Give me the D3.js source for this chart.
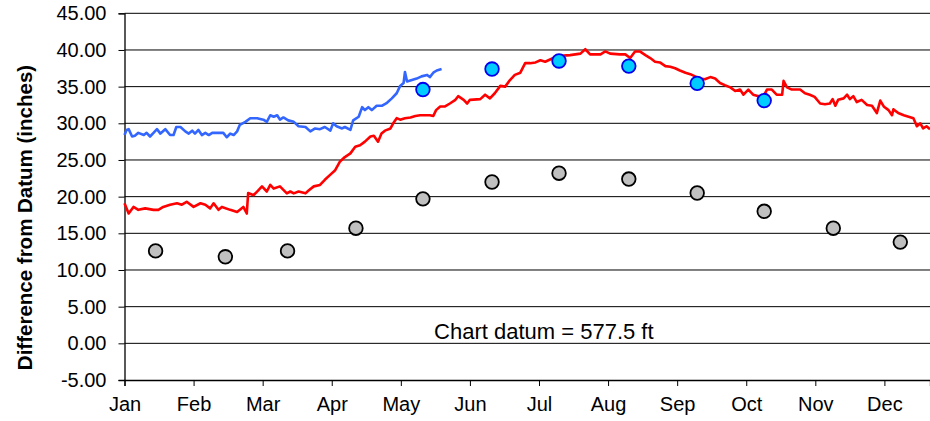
<!DOCTYPE html>
<html>
<head>
<meta charset="utf-8">
<script src="https://cdn.jsdelivr.net/npm/d3@7"></script>
<style>
  body { margin: 0; background: #fff; }
  svg text { font-family: "Liberation Sans", Arial, sans-serif; fill: #000; }
</style>
</head>
<body>
<svg width="930" height="421"></svg>
<script>
// month labels, positions on the x axis are month offsets (0 = start of Jan)
var months = ["Jan", "Feb", "Mar", "Apr", "May", "Jun", "Jul", "Aug", "Sep", "Oct", "Nov", "Dec"];
var yTicks = [-5, 0, 5, 10, 15, 20, 25, 30, 35, 40, 45];

// daily level, current year (red)
var levelRed = [
  [0.00,19.1],[0.06,17.7],[0.13,18.6],[0.20,18.2],[0.30,18.4],[0.42,18.2],[0.49,18.2],[0.56,18.6],
  [0.66,18.9],[0.76,19.1],[0.83,18.9],[0.90,19.3],[1.00,18.6],[1.10,19.1],[1.17,18.9],[1.24,18.4],
  [1.29,19.1],[1.36,18.2],[1.41,18.6],[1.53,18.2],[1.63,17.9],[1.72,18.6],[1.77,17.7],[1.79,20.5],
  [1.87,20.2],[1.94,20.9],[1.99,21.4],[2.06,20.7],[2.11,21.6],[2.16,21.1],[2.25,21.4],[2.35,20.45],
  [2.40,20.7],[2.45,20.45],[2.52,20.7],[2.62,20.45],[2.66,20.8],[2.74,21.4],[2.83,21.6],[2.90,22.3],
  [2.98,23.0],[3.05,23.6],[3.12,24.8],[3.19,25.4],[3.27,25.9],[3.34,26.8],[3.41,27.0],[3.48,27.5],
  [3.56,28.2],[3.61,28.3],[3.67,27.5],[3.72,28.6],[3.77,29.0],[3.85,29.3],[3.89,30.0],[3.94,30.7],
  [3.99,30.5],[4.06,30.7],[4.14,30.8],[4.21,31.0],[4.28,31.1],[4.42,31.1],[4.47,31.0],[4.51,31.8],
  [4.57,32.3],[4.64,32.3],[4.71,32.7],[4.79,33.2],[4.83,33.7],[4.91,33.2],[4.96,32.7],[5.00,33.2],
  [5.15,33.3],[5.22,33.9],[5.29,33.4],[5.36,34.1],[5.44,35.1],[5.51,35.0],[5.58,35.9],[5.65,36.6],
  [5.73,36.9],[5.80,38.2],[5.87,38.2],[5.95,38.3],[6.02,38.6],[6.09,38.4],[6.16,38.7],[6.23,39.0],
  [6.31,39.2],[6.45,39.3],[6.60,39.5],[6.67,40.1],[6.74,39.4],[6.89,39.4],[6.96,39.8],[7.03,39.5],
  [7.17,39.4],[7.25,39.4],[7.32,38.9],[7.39,39.8],[7.46,39.8],[7.54,39.3],[7.61,38.9],[7.68,38.4],
  [7.75,38.3],[7.83,37.8],[7.90,37.7],[7.97,37.5],[8.04,37.2],[8.12,36.9],[8.19,36.7],[8.26,36.4],
  [8.33,36.1],[8.40,36.0],[8.48,36.3],[8.55,36.1],[8.62,35.5],[8.69,35.2],[8.77,34.9],[8.84,34.4],
  [8.91,34.6],[8.96,33.9],[9.03,34.6],[9.10,33.9],[9.18,33.7],[9.25,33.7],[9.30,34.6],[9.37,34.6],
  [9.44,33.9],[9.52,33.9],[9.54,35.8],[9.59,34.9],[9.66,34.6],[9.78,34.6],[9.85,34.1],[9.92,33.9],
  [9.99,33.6],[10.07,32.7],[10.14,32.6],[10.21,32.7],[10.25,33.3],[10.29,32.4],[10.33,33.2],[10.41,33.4],
  [10.46,33.9],[10.50,33.3],[10.55,33.7],[10.60,32.9],[10.67,33.2],[10.75,32.5],[10.82,32.4],[10.89,31.4],
  [10.94,33.1],[10.99,32.3],[11.06,31.8],[11.11,31.1],[11.13,31.9],[11.20,31.4],[11.28,31.1],[11.35,30.9],
  [11.42,30.7],[11.47,29.6],[11.52,30.0],[11.56,29.3],[11.61,29.6],[11.66,29.2]
];

// daily level, other year (blue), stops in late May
var levelBlue = [
  [0.00,28.4],[0.03,29.1],[0.06,29.2],[0.11,28.2],[0.15,28.3],[0.20,28.7],[0.28,28.4],[0.32,28.7],
  [0.37,28.2],[0.42,28.7],[0.47,29.2],[0.52,28.6],[0.59,29.2],[0.66,28.4],[0.71,28.4],[0.75,29.5],
  [0.81,29.5],[0.88,28.9],[0.93,28.6],[0.98,29.0],[1.02,28.6],[1.07,29.1],[1.12,28.4],[1.17,28.7],
  [1.22,28.4],[1.27,28.7],[1.34,28.7],[1.43,28.7],[1.48,28.1],[1.53,28.6],[1.58,28.4],[1.63,28.9],
  [1.67,29.8],[1.75,30.2],[1.82,30.7],[1.92,30.7],[2.01,30.5],[2.06,30.2],[2.11,31.1],[2.16,30.9],
  [2.21,31.1],[2.25,30.5],[2.30,30.8],[2.37,30.4],[2.45,30.2],[2.52,29.6],[2.62,29.5],[2.69,28.9],
  [2.76,29.3],[2.83,29.2],[2.90,29.5],[2.98,29.0],[3.02,30.0],[3.07,29.6],[3.15,29.3],[3.19,29.5],
  [3.27,29.1],[3.31,30.4],[3.39,30.9],[3.44,32.2],[3.48,31.8],[3.53,32.2],[3.58,31.8],[3.65,32.4],
  [3.73,32.4],[3.80,32.8],[3.87,33.4],[3.94,34.1],[3.99,35.1],[4.04,35.5],[4.06,37.0],[4.09,35.7],
  [4.16,35.9],[4.23,36.1],[4.30,36.4],[4.38,36.6],[4.42,36.3],[4.47,36.9],[4.52,37.2],[4.59,37.4]
];

// monthly points
var dotPos = [0.45, 1.46, 2.36, 3.35, 4.32, 5.32, 6.29, 7.30, 8.29, 9.26, 10.26, 11.23];
var grayVals = [12.6, 11.8, 12.6, 15.7, 19.7, 22.0, 23.2, 22.4, 20.5, 18.0, 15.7, 13.8];
var cyanPos = [4.32, 5.32, 6.29, 7.30, 8.29, 9.26];
var cyanVals = [34.6, 37.4, 38.5, 37.8, 35.45, 33.1];

var svg = d3.select("svg"),
    plotLeft = 124.5, plotRight = 930, plotTop = 13.3, plotBottom = 380;

var x = d3.scaleLinear().domain([0, 11.66]).range([plotLeft, plotRight]);
var y = d3.scaleLinear().domain([-5, 45]).range([plotBottom, plotTop]);

// gridlines
svg.append("g").selectAll("line")
    .data(yTicks.filter(function(d){ return d > -5; }))
    .enter().append("line")
    .attr("x1", plotLeft).attr("x2", plotRight)
    .attr("y1", function(d){ return y(d); })
    .attr("y2", function(d){ return y(d); })
    .attr("stroke", "#000")
    .attr("stroke-width", 1);

// y axis (plain hyphen for negatives, like the original)
var yAxis = d3.axisLeft(y).tickValues(yTicks).tickSize(6).tickPadding(12)
    .tickFormat(function(d){ return d.toFixed(2); });
var gy = svg.append("g").attr("transform", "translate(" + plotLeft + ",0)").call(yAxis);
gy.selectAll("text").style("font-size", "20px");

// x axis
var xAxis = d3.axisBottom(x).tickValues(d3.range(12)).tickSize(6).tickPadding(11)
    .tickFormat(function(d){ return months[d]; });
var gx = svg.append("g").attr("transform", "translate(0," + plotBottom + ")").call(xAxis);
gx.selectAll("text").style("font-size", "20px");
svg.selectAll(".domain").attr("stroke", "#000").attr("stroke-width", 1.3);
svg.selectAll(".tick line").attr("stroke", "#000");

var line = d3.line()
    .x(function(d){ return x(d[0]); })
    .y(function(d){ return y(d[1]); });

svg.append("path").datum(levelBlue)
    .attr("d", line)
    .attr("fill", "none")
    .attr("stroke", "#3366ff")
    .attr("stroke-width", 2.6)
    .attr("stroke-linejoin", "round");

svg.append("path").datum(levelRed)
    .attr("d", line)
    .attr("fill", "none")
    .attr("stroke", "#ff0000")
    .attr("stroke-width", 2.6)
    .attr("stroke-linejoin", "round");

// monthly gray dots
svg.append("g").selectAll("circle")
    .data(grayVals)
    .enter().append("circle")
    .attr("cx", function(d, i){ return x(dotPos[i]); })
    .attr("cy", function(d){ return y(d); })
    .attr("r", 6.8)
    .attr("fill", "#c0c0c0")
    .attr("stroke", "#000")
    .attr("stroke-width", 1.8);

// monthly cyan dots
svg.append("g").selectAll("circle")
    .data(cyanVals)
    .enter().append("circle")
    .attr("cx", function(d, i){ return x(cyanPos[i]); })
    .attr("cy", function(d){ return y(d); })
    .attr("r", 6.8)
    .attr("fill", "#00ccff")
    .attr("stroke", "#0000ee")
    .attr("stroke-width", 1.8);

svg.append("text")
    .attr("x", x(6.07))
    .attr("y", y(0) - 4.5)
    .attr("text-anchor", "middle")
    .style("font-size", "22px")
    .text("Chart datum = 577.5 ft");

svg.append("text")
    .attr("transform", "translate(32,217.5) rotate(-90)")
    .attr("text-anchor", "middle")
    .style("font-size", "20.5px")
    .style("font-weight", "bold")
    .text("Difference from Datum (inches)");
</script>
</body>
</html>
